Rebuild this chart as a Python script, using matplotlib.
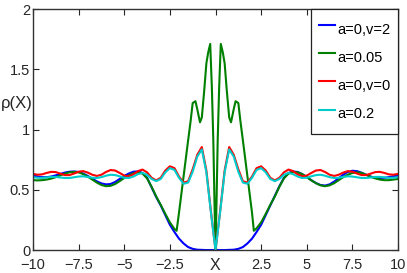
import matplotlib
matplotlib.use("Agg")
import matplotlib.pyplot as plt
import numpy as np

plt.rcParams['font.family'] = ['Liberation Sans', 'DejaVu Sans']
plt.rcParams['axes.unicode_minus'] = True

# a=0, v=0 and a=0.2 share one symmetric grid (step 0.25)
x_half = [0, 0.25, 0.5, 0.75, 1.0, 1.25, 1.5, 1.75, 2.0, 2.25, 2.5, 2.75, 3.0, 3.25, 3.5,
          3.75, 4.0, 4.25, 4.5, 4.75, 5.0, 5.25, 5.5, 5.75, 6.0, 6.25, 6.5, 6.75, 7.0,
          7.25, 7.5, 7.75, 8.0, 8.25, 8.5, 8.75, 9.0, 9.25, 9.5, 9.75, 10.0]
red_half = [0, 0.32, 0.66, 0.855, 0.79, 0.67, 0.57, 0.56, 0.61, 0.68, 0.695, 0.66, 0.60,
            0.578, 0.60, 0.645, 0.668, 0.655, 0.628, 0.612, 0.618, 0.64, 0.66, 0.664, 0.648,
            0.625, 0.615, 0.625, 0.643, 0.655, 0.65, 0.635, 0.622, 0.622, 0.634, 0.647, 0.649,
            0.64, 0.628, 0.625, 0.632]
cyan_half = [0, 0.31, 0.645, 0.835, 0.775, 0.65, 0.56, 0.55, 0.60, 0.665, 0.68, 0.645, 0.59,
             0.572, 0.59, 0.625, 0.64, 0.63, 0.61, 0.598, 0.60, 0.612, 0.622, 0.625, 0.617,
             0.605, 0.598, 0.60, 0.607, 0.612, 0.61, 0.604, 0.598, 0.598, 0.602, 0.607, 0.607,
             0.603, 0.599, 0.60, 0.605]

x_red = [-v for v in x_half[:0:-1]] + x_half
y_red = red_half[:0:-1] + red_half
y_cyan = cyan_half[:0:-1] + cyan_half

# a=0, v=2
x_blue = [-10, -9.75, -9.5, -9.25, -9, -8.75, -8.5, -8.25, -8, -7.75, -7.5, -7.25, -7, -6.75,
          -6.5, -6.25, -6, -5.75, -5.5, -5.25, -5, -4.75, -4.5, -4.25, -4, -3.75, -3.5, -3.25,
          -3, -2.75, -2.5, -2.25, -2, -1.75, -1.5, -1.25, -1, -0.5, 0, 0.5, 1, 1.25, 1.5, 1.75,
          2, 2.25, 2.5, 2.75, 3, 3.25, 3.5, 3.75, 4, 4.25, 4.5, 4.75, 5, 5.25, 5.5, 5.75, 6,
          6.25, 6.5, 6.75, 7, 7.25, 7.5, 7.75, 8, 8.25, 8.5, 8.75, 9, 9.25, 9.5, 9.75, 10]
y_blue = [0.62, 0.61, 0.605, 0.605, 0.61, 0.62, 0.632, 0.643, 0.65, 0.652, 0.648, 0.635, 0.615,
          0.592, 0.57, 0.553, 0.545, 0.548, 0.565, 0.59, 0.615, 0.635, 0.65, 0.653, 0.64, 0.6,
          0.52, 0.44, 0.37, 0.29, 0.21, 0.15, 0.095, 0.055, 0.025, 0.01, 0.003, 0.0, 0.0, 0.0,
          0.003, 0.01, 0.025, 0.055, 0.095, 0.15, 0.21, 0.29, 0.37, 0.45, 0.53, 0.6, 0.64,
          0.652, 0.648, 0.63, 0.605, 0.58, 0.556, 0.54, 0.535, 0.545, 0.568, 0.597, 0.625,
          0.648, 0.658, 0.655, 0.642, 0.625, 0.61, 0.6, 0.598, 0.6, 0.605, 0.612, 0.618]

# a=0.05
x_green = [-10, -9.75, -9.5, -9.25, -9, -8.75, -8.5, -8.25, -8, -7.75, -7.5, -7.25, -7, -6.75,
           -6.5, -6.25, -6, -5.75, -5.5, -5.25, -5, -4.75, -4.5, -4.25, -4, -3.75, -3.5, -3.25,
           -3, -2.75, -2.5, -2.25, -2.13, -2.0, -1.75, -1.5, -1.36, -1.25, -1.1, -1.0, -0.85,
           -0.75, -0.62, -0.5, -0.4, -0.29, -0.2, -0.12, -0.05, 0, 0.05, 0.12, 0.2, 0.29, 0.4,
           0.5, 0.62, 0.75, 0.85, 1.0, 1.1, 1.25, 1.36, 1.5, 1.75, 2.0, 2.1, 2.25, 2.5, 2.75,
           3, 3.25, 3.5, 3.75, 4, 4.25, 4.5, 4.75, 5, 5.25, 5.5, 5.75, 6, 6.25, 6.5, 6.75, 7,
           7.25, 7.5, 7.75, 8, 8.25, 8.5, 8.75, 9, 9.25, 9.5, 9.75, 10]
y_green = [0.58, 0.578, 0.58, 0.585, 0.593, 0.605, 0.62, 0.635, 0.645, 0.648, 0.645, 0.63, 0.61,
           0.585, 0.56, 0.54, 0.53, 0.533, 0.548, 0.572, 0.598, 0.62, 0.638, 0.645, 0.635, 0.595,
           0.525, 0.445, 0.375, 0.30, 0.23, 0.175, 0.16, 0.31, 0.61, 0.91, 1.075, 1.22, 1.235,
           1.17, 1.06, 1.1, 1.32, 1.55, 1.64, 1.71, 1.35, 0.91, 0.35, 0.0, 0.35, 0.91, 1.35,
           1.71, 1.64, 1.55, 1.32, 1.1, 1.06, 1.17, 1.235, 1.22, 1.075, 0.91, 0.61, 0.31, 0.16,
           0.18, 0.23, 0.30, 0.375, 0.445, 0.525, 0.595, 0.635, 0.648, 0.645, 0.63, 0.605,
           0.578, 0.555, 0.537, 0.53, 0.537, 0.555, 0.58, 0.605, 0.625, 0.64, 0.645, 0.64,
           0.625, 0.608, 0.595, 0.585, 0.58, 0.58, 0.585, 0.59]

x_ticks = [-10, -7.5, -5, -2.5, 0, 2.5, 5, 7.5, 10]
x_ticklabels = ['\u221210', '\u22127.5', '\u22125', '\u22122.5', '', '2.5', '5', '7.5', '10']
y_ticks = [0, 0.5, 1, 1.5, 2]
y_ticklabels = ['0', '0.5', '1', '1.5', '2']

fs = 10.5
fig = plt.figure(figsize=(4.07, 2.73), dpi=100)
ax = fig.add_axes([0.081, 0.084, 0.897, 0.883])

ax.plot(x_blue, y_blue, color=(0, 0, 1), lw=1.5, label='a=0,v=2')
ax.plot(x_green, y_green, color=(0, 0.5, 0), lw=1.5, label='a=0.05')
ax.plot(x_red, y_red, color=(1, 0, 0), lw=1.5, label='a=0,v=0')
ax.plot(x_red, y_cyan, color=(0, 0.8, 0.8), lw=1.5, label='a=0.2')

ax.set_xlim(-10, 10)
ax.set_ylim(0, 2)
ax.set_xticks(x_ticks)
ax.set_xticklabels(x_ticklabels)
ax.set_yticks(y_ticks)
ax.set_yticklabels(y_ticklabels)
ax.tick_params(direction='in', length=4, width=0.8, top=True, right=True,
               labelsize=fs, colors='#262626')
ax.tick_params(axis='y', pad=2)
ax.tick_params(axis='x', pad=6)
for s in ax.spines.values():
    s.set_color('#333333')
    s.set_linewidth(1.0)

fig.text(0.528, 0.028, 'X', fontsize=11.5, ha='center', va='center', color='#262626')
fig.text(0.002, 0.62, '\u03c1(X)', fontsize=12, ha='left', va='center', color='#262626')

leg = ax.legend(loc='upper right', bbox_to_anchor=(1, 1), borderaxespad=0, fontsize=fs,
                fancybox=False, framealpha=1, edgecolor='#222222', handlelength=1.15,
                handleheight=2.3, handletextpad=0.15, borderpad=0.5, labelspacing=0.2)
leg.get_frame().set_linewidth(0.9)

fig.savefig('out.png', dpi=100)
